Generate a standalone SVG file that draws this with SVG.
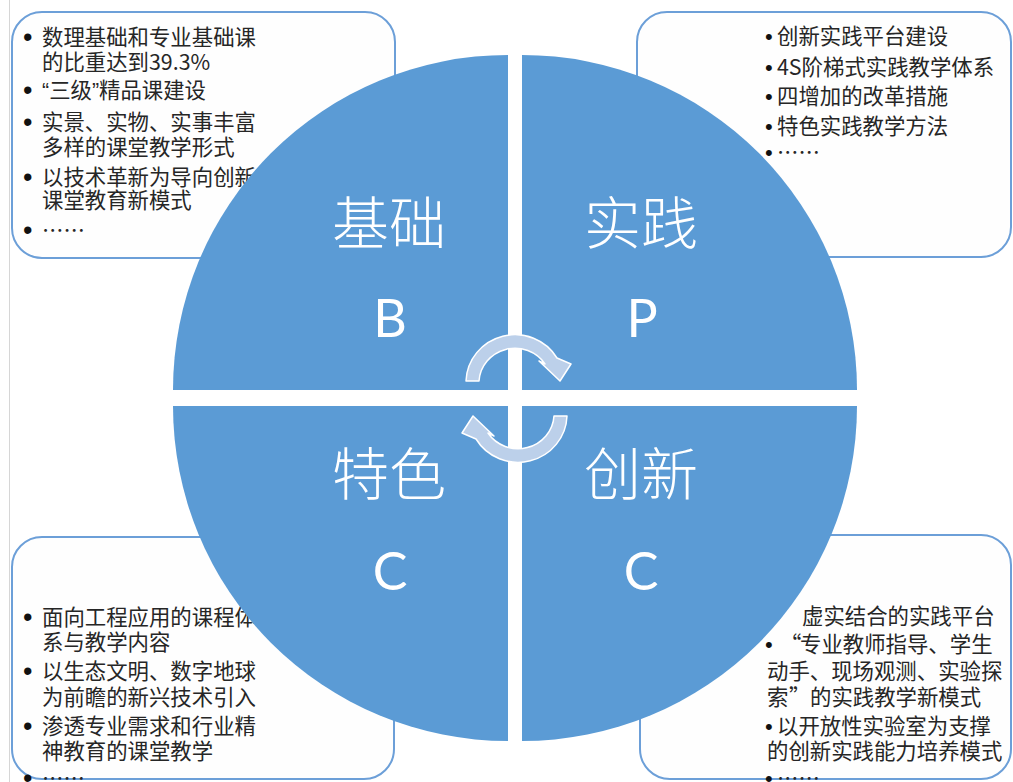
<svg xmlns="http://www.w3.org/2000/svg" width="1013" height="782" viewBox="0 0 1013 782">
<style>
.box{fill:#fefefe;stroke:#6c9fd8;stroke-width:2}
.t{font-family:"Noto Sans CJK SC","Noto Sans",sans-serif;font-size:21.4px;fill:#262626}
.b{font-family:"Liberation Sans",Arial,sans-serif;font-size:27px;fill:#111111}
.bs{font-family:"Liberation Sans",Arial,sans-serif;font-size:22px;fill:#111111}
.l{font-family:"Liberation Sans",Arial,sans-serif}
.q{fill:#5b9bd5}
.big{font-family:"Noto Sans CJK SC",sans-serif;font-size:57px;font-weight:300;fill:#ffffff;text-anchor:middle}
.let{font-family:"Lato","Open Sans",sans-serif;font-size:52px;fill:#ffffff;text-anchor:middle}
.arr{fill:#bcd0ea;stroke:#ffffff;stroke-width:1.5;stroke-linejoin:round}
</style>
<rect width="1013" height="782" fill="#ffffff"/>
<line x1="9.5" y1="0" x2="9.5" y2="782" stroke="#d6d6d6" stroke-width="1"/>

<g id="box-basics">
<rect class="box" x="12" y="12" width="383" height="246" rx="30"/>
<text class="b" x="23" y="46">•</text><text class="t" x="42" y="45">数理基础和专业基础课</text>
<text class="t" x="42" y="70">的比重达到39.3%</text>
<text class="b" x="23" y="99">•</text><text class="t" x="42" y="98"><tspan class="l">“</tspan>三级<tspan class="l">”</tspan>精品课建设</text>
<text class="b" x="23" y="131">•</text><text class="t" x="42" y="130">实景、实物、实事丰富</text>
<text class="t" x="42" y="155">多样的课堂教学形式</text>
<text class="b" x="23" y="186">•</text><text class="t" x="42" y="185">以技术革新为导向创新</text>
<text class="t" x="42" y="208">课堂教育新模式</text>
<text class="b" x="23" y="239">•</text><text class="t" x="42" y="238">……</text>
</g>

<g id="box-practice">
<rect class="box" x="637" y="12" width="374" height="245" rx="30"/>
<text class="bs" x="765" y="44">•</text><text class="t" x="777" y="44">创新实践平台建设</text>
<text class="bs" x="765" y="75">•</text><text class="t" x="777" y="75">4S阶梯式实践教学体系</text>
<text class="bs" x="765" y="104">•</text><text class="t" x="777" y="104">四增加的改革措施</text>
<text class="bs" x="765" y="134">•</text><text class="t" x="777" y="134">特色实践教学方法</text>
<text class="bs" x="765" y="160">•</text><text class="t" x="777" y="160">……</text>
</g>

<g id="box-feature">
<rect class="box" x="12" y="537" width="382" height="242" rx="30"/>
<text class="b" x="23" y="626">•</text><text class="t" x="42" y="625">面向工程应用的课程体</text>
<text class="t" x="42" y="650">系与教学内容</text>
<text class="b" x="23" y="680">•</text><text class="t" x="42" y="679">以生态文明、数字地球</text>
<text class="t" x="42" y="705">为前瞻的新兴技术引入</text>
<text class="b" x="23" y="735">•</text><text class="t" x="42" y="734">渗透专业需求和行业精</text>
<text class="t" x="42" y="759">神教育的课堂教学</text>
<text class="b" x="23" y="787">•</text><text class="t" x="42" y="786">……</text>
</g>

<g id="box-innovation">
<rect class="box" x="640" y="535" width="371" height="244" rx="30"/>
<text class="t" x="802" y="624">虚实结合的实践平台</text>
<text class="bs" x="765" y="652">•</text><text class="t" y="652"><tspan x="780">“</tspan><tspan x="800">专业教师指导、学生</tspan></text>
<text class="t" x="767" y="679">动手、现场观测、实验探</text>
<text class="t" y="705"><tspan x="767">索</tspan><tspan x="789">”</tspan><tspan x="810">的实践教学新模式</tspan></text>
<text class="bs" x="765" y="734">•</text><text class="t" x="777" y="734">以开放性实验室为支撑</text>
<text class="t" x="767" y="759">的创新实践能力培养模式</text>
<text class="bs" x="765" y="786">•</text><text class="t" x="777" y="786">……</text>
</g>

<g id="quad-basics">
<path class="q" d="M508,390 L173,390 A335,335 0 0 1 508,55 Z"/>
<text class="big" x="389" y="244">基础</text>
<text class="let" x="390" y="337">B</text>
</g>
<g id="quad-practice">
<path class="q" d="M522,390 L522,55 A335,335 0 0 1 857,390 Z"/>
<text class="big" x="641" y="244">实践</text>
<text class="let" x="642" y="337">P</text>
</g>
<g id="quad-feature">
<path class="q" d="M508,406 L508,741 A335,335 0 0 1 173,406 Z"/>
<text class="big" x="389" y="495">特色</text>
<text class="let" x="390" y="590">C</text>
</g>
<g id="quad-innovation">
<path class="q" d="M522,406 L857,406 A335,335 0 0 1 522,741 Z"/>
<text class="big" x="641" y="495">创新</text>
<text class="let" x="641" y="590">C</text>
</g>

<g id="connectors">
<path id="arrow-top" class="arr" d="M466,381 A49,48 0 0 1 557,358 L571,364 L560,381 L539,361 L545,364 A36,35 0 0 0 479,381 Z"/>
<path id="arrow-bottom" class="arr" transform="rotate(180 516.5 398.5)" d="M466,381 A49,48 0 0 1 557,358 L571,364 L560,381 L539,361 L545,364 A36,35 0 0 0 479,381 Z"/>
</g>
</svg>
